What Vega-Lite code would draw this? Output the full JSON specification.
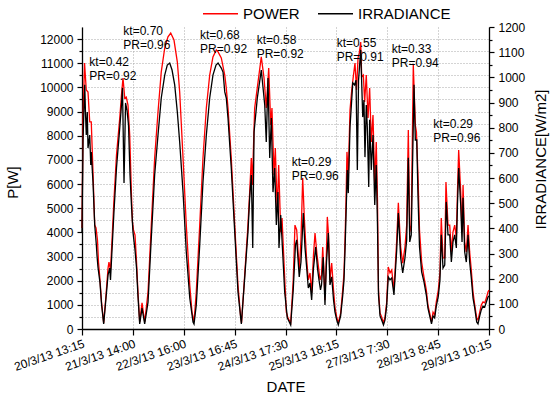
{
  "$schema": "https://vega.github.io/schema/vega-lite/v6.json",
  "width": 407,
  "height": 302,
  "autosize": {"type": "none"},
  "padding": {"left": 82, "top": 27, "right": 61, "bottom": 68},
  "background": "white",
  "config": {
    "font": "Liberation Sans",
    "view": {"stroke": null},
    "axis": {
      "labelFont": "Liberation Sans",
      "labelFontSize": 12,
      "labelColor": "#000",
      "titleFont": "Liberation Sans",
      "titleFontSize": 15,
      "titleFontWeight": "normal",
      "titleColor": "#000",
      "domainColor": "#000",
      "domainWidth": 1.3,
      "tickColor": "#000",
      "tickWidth": 1.2,
      "gridColor": "#a8a8a8",
      "gridDash": [1, 2],
      "gridWidth": 1,
      "labelOverlap": false
    }
  },
  "datasets": {
    "power": [
      {"t":0,"p":4180},{"t":1.0,"p":8650},{"t":2.5,"p":11010},{"t":4.2,"p":9890},{"t":5.9,"p":9810},{"t":7.6,"p":8570},{"t":9.1,"p":8570},{"t":10.8,"p":6500},{"t":12.5,"p":4300},{"t":13.8,"p":4180},{"t":15.2,"p":3680},{"t":16.2,"p":2770},{"t":17.7,"p":2030},{"t":19.2,"p":1120},{"t":21.3,"p":250},{"t":23.6,"p":1410},{"t":25.6,"p":2520},{"t":26.5,"p":2770},{"t":28.0,"p":2440},{"t":29.5,"p":3680},{"t":31.4,"p":5340},{"t":33.9,"p":7200},{"t":37.1,"p":8730},{"t":38.8,"p":9690},{"t":40.3,"p":10390},{"t":42.0,"p":9560},{"t":43.5,"p":9600},{"t":45.2,"p":9270},{"t":46.9,"p":8030},{"t":48.5,"p":5670},{"t":49.6,"p":4430},{"t":50.6,"p":4100},{"t":52.1,"p":3890},{"t":53.6,"p":2770},{"t":55.0,"p":1530},{"t":56.7,"p":290},{"t":59.0,"p":1080},{"t":61.6,"p":290},{"t":64.9,"p":1530},{"t":68.1,"p":4300},{"t":71.4,"p":7080},{"t":74.7,"p":8980},{"t":77.9,"p":10640},{"t":81.3,"p":11630},{"t":84.5,"p":12090},{"t":87.2,"p":12250},{"t":90.4,"p":11960},{"t":93.7,"p":11050},{"t":96.0,"p":9810},{"t":99.3,"p":7080},{"t":102.5,"p":4300},{"t":105.9,"p":1820},{"t":108.1,"p":700},{"t":110.1,"p":290},{"t":112.3,"p":1530},{"t":115.7,"p":4300},{"t":118.9,"p":7080},{"t":122.2,"p":9150},{"t":125.5,"p":10510},{"t":128.7,"p":11260},{"t":132.0,"p":11550},{"t":133.7,"p":11470},{"t":136.9,"p":11220},{"t":140.3,"p":10510},{"t":141.8,"p":9970},{"t":143.5,"p":9150},{"t":146.7,"p":7080},{"t":150.1,"p":4300},{"t":153.3,"p":1820},{"t":156.0,"p":460},{"t":156.8,"p":250},{"t":159.9,"p":2240},{"t":163.1,"p":4300},{"t":164.8,"p":5670},{"t":166.4,"p":7080},{"t":167.4,"p":5960},{"t":169.7,"p":9150},{"t":173.0,"p":10220},{"t":176.2,"p":11260},{"t":178.9,"p":10390},{"t":181.1,"p":9150},{"t":183.5,"p":10800},{"t":185.5,"p":8440},{"t":186.7,"p":9150},{"t":188.7,"p":6370},{"t":190.0,"p":7490},{"t":191.9,"p":4840},{"t":193.3,"p":6790},{"t":195.3,"p":4010},{"t":196.6,"p":4590},{"t":199.2,"p":2110},{"t":200.8,"p":700},{"t":202.4,"p":460},{"t":205.1,"p":250},{"t":207.6,"p":2030},{"t":209.3,"p":4300},{"t":211.0,"p":4100},{"t":213.5,"p":2440},{"t":215.2,"p":3680},{"t":216.9,"p":6250},{"t":218.6,"p":4510},{"t":220.6,"p":2980},{"t":222.4,"p":2030},{"t":224.1,"p":2320},{"t":225.7,"p":1490},{"t":227.5,"p":3060},{"t":229.0,"p":3970},{"t":231.0,"p":3060},{"t":232.4,"p":2570},{"t":233.9,"p":2030},{"t":235.4,"p":2240},{"t":236.6,"p":3390},{"t":237.8,"p":2240},{"t":238.8,"p":1200},{"t":240.3,"p":3270},{"t":241.1,"p":4640},{"t":242.3,"p":3890},{"t":243.7,"p":2030},{"t":245.4,"p":2730},{"t":247.2,"p":1610},{"t":248.6,"p":910},{"t":250.3,"p":500},{"t":251.9,"p":250},{"t":254.2,"p":660},{"t":256.2,"p":1610},{"t":257.5,"p":2320},{"t":258.5,"p":3680},{"t":259.5,"p":5340},{"t":260.4,"p":7330},{"t":261.7,"p":6370},{"t":263.4,"p":9060},{"t":265.1,"p":9890},{"t":266.8,"p":10510},{"t":268.3,"p":11010},{"t":269.8,"p":9890},{"t":271.3,"p":11220},{"t":272.5,"p":11420},{"t":273.9,"p":11880},{"t":274.9,"p":10430},{"t":276.5,"p":10510},{"t":277.8,"p":9400},{"t":279.4,"p":10510},{"t":281.1,"p":8730},{"t":282.7,"p":9970},{"t":284.3,"p":7740},{"t":286.0,"p":8860},{"t":287.7,"p":5960},{"t":289.2,"p":7740},{"t":290.4,"p":5340},{"t":291.4,"p":1610},{"t":292.9,"p":660},{"t":294.5,"p":500},{"t":296.3,"p":250},{"t":297.8,"p":500},{"t":299.4,"p":1080},{"t":301.0,"p":2570},{"t":302.7,"p":2320},{"t":304.4,"p":2440},{"t":306.6,"p":1610},{"t":309.3,"p":3680},{"t":310.9,"p":5220},{"t":313.2,"p":3390},{"t":315.2,"p":2730},{"t":317.4,"p":3390},{"t":319.1,"p":4300},{"t":320.7,"p":8240},{"t":322.1,"p":4010},{"t":323.6,"p":4300},{"t":325.6,"p":10930},{"t":327.6,"p":8440},{"t":328.7,"p":8150},{"t":330.2,"p":6370},{"t":331.7,"p":4100},{"t":333.8,"p":2770},{"t":336.1,"p":2150},{"t":338.4,"p":1610},{"t":340.0,"p":990},{"t":341.7,"p":660},{"t":343.5,"p":290},{"t":345.0,"p":700},{"t":346.6,"p":580},{"t":348.2,"p":1120},{"t":350.2,"p":1610},{"t":351.8,"p":2360},{"t":353.1,"p":4590},{"t":354.8,"p":2940},{"t":356.5,"p":2940},{"t":357.7,"p":6080},{"t":359.7,"p":4300},{"t":361.4,"p":4300},{"t":363.0,"p":3190},{"t":364.6,"p":4010},{"t":366.3,"p":4300},{"t":367.9,"p":3770},{"t":369.0,"p":5670},{"t":370.2,"p":7410},{"t":372.2,"p":5670},{"t":373.5,"p":4010},{"t":374.5,"p":5960},{"t":376.1,"p":3600},{"t":377.7,"p":3190},{"t":379.4,"p":4300},{"t":381.0,"p":3190},{"t":382.6,"p":2440},{"t":384.3,"p":1530},{"t":386.0,"p":990},{"t":387.9,"p":460},{"t":389.2,"p":370},{"t":390.9,"p":700},{"t":392.4,"p":990},{"t":394.1,"p":1120},{"t":395.8,"p":1080},{"t":397.4,"p":1280},{"t":399.0,"p":1530},{"t":400.0,"p":1610}
    ],
    "irr": [
      {"t":0,"i":385},{"t":1.0,"i":751},{"t":2.7,"i":970},{"t":3.4,"i":862},{"t":4.2,"i":771},{"t":5.2,"i":862},{"t":5.9,"i":719},{"t":7.6,"i":771},{"t":8.6,"i":652},{"t":9.1,"i":703},{"t":10.8,"i":584},{"t":12.5,"i":413},{"t":14.1,"i":334},{"t":14.7,"i":294},{"t":15.7,"i":246},{"t":17.7,"i":183},{"t":19.2,"i":99},{"t":21.3,"i":20},{"t":23.6,"i":123},{"t":25.6,"i":215},{"t":27.2,"i":242},{"t":28.0,"i":195},{"t":29.5,"i":314},{"t":31.4,"i":465},{"t":33.9,"i":640},{"t":37.1,"i":799},{"t":38.8,"i":890},{"t":39.8,"i":958},{"t":41.3,"i":580},{"t":42.8,"i":898},{"t":44.2,"i":870},{"t":45.7,"i":811},{"t":47.2,"i":612},{"t":48.6,"i":493},{"t":50.1,"i":385},{"t":52.1,"i":314},{"t":53.6,"i":242},{"t":55.0,"i":131},{"t":56.7,"i":20},{"t":59.0,"i":83},{"t":61.6,"i":20},{"t":64.9,"i":107},{"t":68.1,"i":362},{"t":71.4,"i":612},{"t":74.7,"i":771},{"t":77.9,"i":918},{"t":81.3,"i":1009},{"t":83.8,"i":1049},{"t":86.2,"i":1057},{"t":88.5,"i":1029},{"t":91.1,"i":970},{"t":93.7,"i":862},{"t":96.0,"i":743},{"t":99.3,"i":544},{"t":102.5,"i":306},{"t":105.9,"i":123},{"t":109.1,"i":28},{"t":110.1,"i":20},{"t":112.3,"i":95},{"t":115.7,"i":334},{"t":118.9,"i":584},{"t":122.2,"i":771},{"t":125.5,"i":918},{"t":128.7,"i":1009},{"t":131.7,"i":1049},{"t":133.7,"i":1057},{"t":136.9,"i":1037},{"t":138.6,"i":1021},{"t":140.3,"i":942},{"t":141.8,"i":918},{"t":143.5,"i":838},{"t":146.7,"i":640},{"t":150.1,"i":385},{"t":153.3,"i":147},{"t":156.6,"i":20},{"t":159.9,"i":203},{"t":163.1,"i":385},{"t":164.8,"i":521},{"t":166.4,"i":612},{"t":167.8,"i":322},{"t":169.1,"i":783},{"t":172.3,"i":918},{"t":176.2,"i":1029},{"t":179.6,"i":890},{"t":181.1,"i":743},{"t":182.8,"i":997},{"t":184.5,"i":680},{"t":186.1,"i":838},{"t":187.7,"i":544},{"t":189.4,"i":640},{"t":191.0,"i":413},{"t":192.6,"i":544},{"t":193.6,"i":322},{"t":195.3,"i":453},{"t":197.5,"i":282},{"t":199.2,"i":147},{"t":201.8,"i":44},{"t":205.1,"i":16},{"t":207.6,"i":155},{"t":209.8,"i":334},{"t":211.0,"i":354},{"t":213.5,"i":207},{"t":215.2,"i":266},{"t":217.5,"i":461},{"t":219.1,"i":326},{"t":220.6,"i":254},{"t":222.4,"i":163},{"t":224.1,"i":183},{"t":225.7,"i":115},{"t":227.5,"i":242},{"t":229.7,"i":326},{"t":231.4,"i":242},{"t":232.9,"i":195},{"t":234.4,"i":155},{"t":235.4,"i":175},{"t":237.1,"i":286},{"t":238.8,"i":95},{"t":240.3,"i":266},{"t":242.1,"i":381},{"t":243.7,"i":175},{"t":245.4,"i":207},{"t":247.2,"i":115},{"t":248.6,"i":68},{"t":250.3,"i":36},{"t":251.9,"i":16},{"t":254.2,"i":52},{"t":256.2,"i":131},{"t":257.5,"i":195},{"t":258.5,"i":314},{"t":259.5,"i":453},{"t":260.7,"i":632},{"t":261.7,"i":540},{"t":263.4,"i":803},{"t":266.1,"i":978},{"t":267.9,"i":970},{"t":269.3,"i":989},{"t":270.6,"i":632},{"t":271.8,"i":989},{"t":273.9,"i":1109},{"t":275.9,"i":842},{"t":277.1,"i":910},{"t":278.1,"i":683},{"t":279.4,"i":890},{"t":280.4,"i":803},{"t":281.8,"i":564},{"t":282.7,"i":831},{"t":284.3,"i":632},{"t":286.0,"i":771},{"t":287.7,"i":493},{"t":289.2,"i":652},{"t":290.4,"i":413},{"t":291.4,"i":135},{"t":292.9,"i":52},{"t":294.5,"i":36},{"t":296.3,"i":16},{"t":297.8,"i":36},{"t":299.4,"i":91},{"t":301.0,"i":207},{"t":302.7,"i":195},{"t":304.4,"i":203},{"t":306.6,"i":135},{"t":309.3,"i":314},{"t":310.9,"i":461},{"t":313.2,"i":282},{"t":315.2,"i":223},{"t":317.4,"i":282},{"t":319.1,"i":354},{"t":320.7,"i":680},{"t":322.1,"i":346},{"t":323.6,"i":374},{"t":326.3,"i":970},{"t":327.6,"i":751},{"t":329.0,"i":751},{"t":330.2,"i":532},{"t":331.7,"i":326},{"t":333.8,"i":227},{"t":336.1,"i":187},{"t":338.4,"i":135},{"t":340.0,"i":83},{"t":341.7,"i":52},{"t":343.5,"i":20},{"t":345.0,"i":52},{"t":346.6,"i":44},{"t":348.2,"i":91},{"t":350.2,"i":131},{"t":351.8,"i":195},{"t":353.1,"i":374},{"t":354.8,"i":242},{"t":356.5,"i":254},{"t":358.0,"i":505},{"t":359.7,"i":374},{"t":361.4,"i":374},{"t":363.0,"i":266},{"t":364.6,"i":346},{"t":366.3,"i":374},{"t":367.9,"i":322},{"t":369.0,"i":493},{"t":370.2,"i":640},{"t":372.2,"i":493},{"t":373.5,"i":346},{"t":374.5,"i":521},{"t":376.1,"i":306},{"t":377.7,"i":266},{"t":379.4,"i":374},{"t":381.0,"i":266},{"t":382.6,"i":203},{"t":384.3,"i":123},{"t":386.0,"i":83},{"t":387.9,"i":28},{"t":389.2,"i":20},{"t":390.9,"i":52},{"t":392.4,"i":76},{"t":394.1,"i":91},{"t":395.8,"i":87},{"t":397.4,"i":107},{"t":399.0,"i":127},{"t":400.0,"i":131}
    ],
    "notes": [
      {"t":7.2,"p":11070,"label":"kt=0.42\nPR=0.92"},
      {"t":40.6,"p":12330,"label":"kt=0.70\nPR=0.96"},
      {"t":116.0,"p":12150,"label":"kt=0.68\nPR=0.92"},
      {"t":171.7,"p":11980,"label":"kt=0.58\nPR=0.92"},
      {"t":206.1,"p":6910,"label":"kt=0.29\nPR=0.96"},
      {"t":250.3,"p":11820,"label":"kt=0.55\nPR=0.91"},
      {"t":304.4,"p":11590,"label":"kt=0.33\nPR=0.94"},
      {"t":345.3,"p":8485,"label":"kt=0.29\nPR=0.96"}
    ]
  },
  "layer": [
    {
      "encoding": {
        "x": {
          "field": "t", "type": "quantitative", "title": "DATE",
          "scale": {"domain": [0, 400], "nice": false, "zero": false},
          "axis": {
            "values": [0,25,50,75,100,125,150,175,200,225,250,275,300,325,350,375,400],
            "labelExpr": "datum.value % 50 === 0 ? ['20/3/13 13:15','21/3/13 14:00','22/3/13 16:00','23/3/13 16:45','24/3/13 17:30','25/3/13 18:15','27/3/13 7:30','28/3/13 8:45','29/3/13 10:15'][datum.value / 50] : ''",
            "labelAngle": -19,
            "labelAlign": "right",
            "labelBaseline": "top",
            "labelPadding": 3,
            "labelOverlap": false,
            "labelFlush": false,
            "labelBound": false,
            "tickSize": {"condition": {"test": "datum.value % 50 === 0", "value": 6}, "value": 3},
            "grid": true,
            "titleY": 57,
            "titleBaseline": "middle"
          }
        },
        "y": {
          "field": "p", "type": "quantitative", "title": "P[W]",
          "scale": {"domain": [0, 12500], "nice": false},
          "axis": {
            "values": [0,500,1000,1500,2000,2500,3000,3500,4000,4500,5000,5500,6000,6500,7000,7500,8000,8500,9000,9500,10000,10500,11000,11500,12000],
            "labelExpr": "datum.value % 1000 === 0 ? '' + datum.value : ''",
            "labelOverlap": false,
            "tickSize": {"condition": {"test": "datum.value % 1000 === 0", "value": 5}, "value": 3},
            "labelPadding": 4,
            "grid": true,
            "titleX": -70,
            "titleY": 155,
            "titleAngle": 270,
            "titleBaseline": "middle",
            "titleAlign": "center"
          }
        }
      },
      "layer": [
        {
          "data": {"name": "power"},
          "mark": {"type": "line", "strokeWidth": 1.3, "interpolate": "linear"},
          "encoding": {
            "color": {
              "datum": "POWER",
              "scale": {"domain": ["POWER", "IRRADIANCE"], "range": ["#ff0000", "#000000"]},
              "legend": {
                "title": null,
                "orient": "none",
                "legendX": 120,
                "legendY": -32,
                "direction": "horizontal",
                "symbolType": "stroke",
                "symbolSize": 1225,
                "symbolStrokeWidth": 1.5,
                "labelFontSize": 15,
                "labelFont": "Liberation Sans",
                "labelColor": "#000",
                "labelOffset": 4,
                "columnPadding": 15
              }
            }
          }
        },
        {
          "data": {"name": "notes"},
          "mark": {"type": "text", "align": "left", "baseline": "middle", "fontSize": 12, "lineHeight": 14, "lineBreak": "\n", "color": "#000", "font": "Liberation Sans"},
          "encoding": {
            "text": {"field": "label"}
          }
        }
      ]
    },
    {
      "data": {"name": "irr"},
      "mark": {"type": "line", "strokeWidth": 1.3, "interpolate": "linear"},
      "encoding": {
        "x": {"field": "t", "type": "quantitative", "title": "DATE"},
        "y": {
          "field": "i", "type": "quantitative", "title": "IRRADIANCE[W/m2]",
          "scale": {"domain": [0, 1200], "nice": false},
          "axis": {
            "orient": "right",
            "values": [0,50,100,150,200,250,300,350,400,450,500,550,600,650,700,750,800,850,900,950,1000,1050,1100,1150,1200],
            "labelExpr": "datum.value % 100 === 0 ? '' + datum.value : ''",
            "labelOverlap": false,
            "tickSize": {"condition": {"test": "datum.value % 100 === 0", "value": 5}, "value": 3},
            "labelPadding": 4,
            "grid": false,
            "titleX": 51,
            "titleY": 132,
            "titleAngle": 270,
            "titleBaseline": "middle",
            "titleAlign": "center"
          }
        },
        "color": {"datum": "IRRADIANCE"}
      }
    }
  ],
  "resolve": {"scale": {"y": "independent"}}
}
